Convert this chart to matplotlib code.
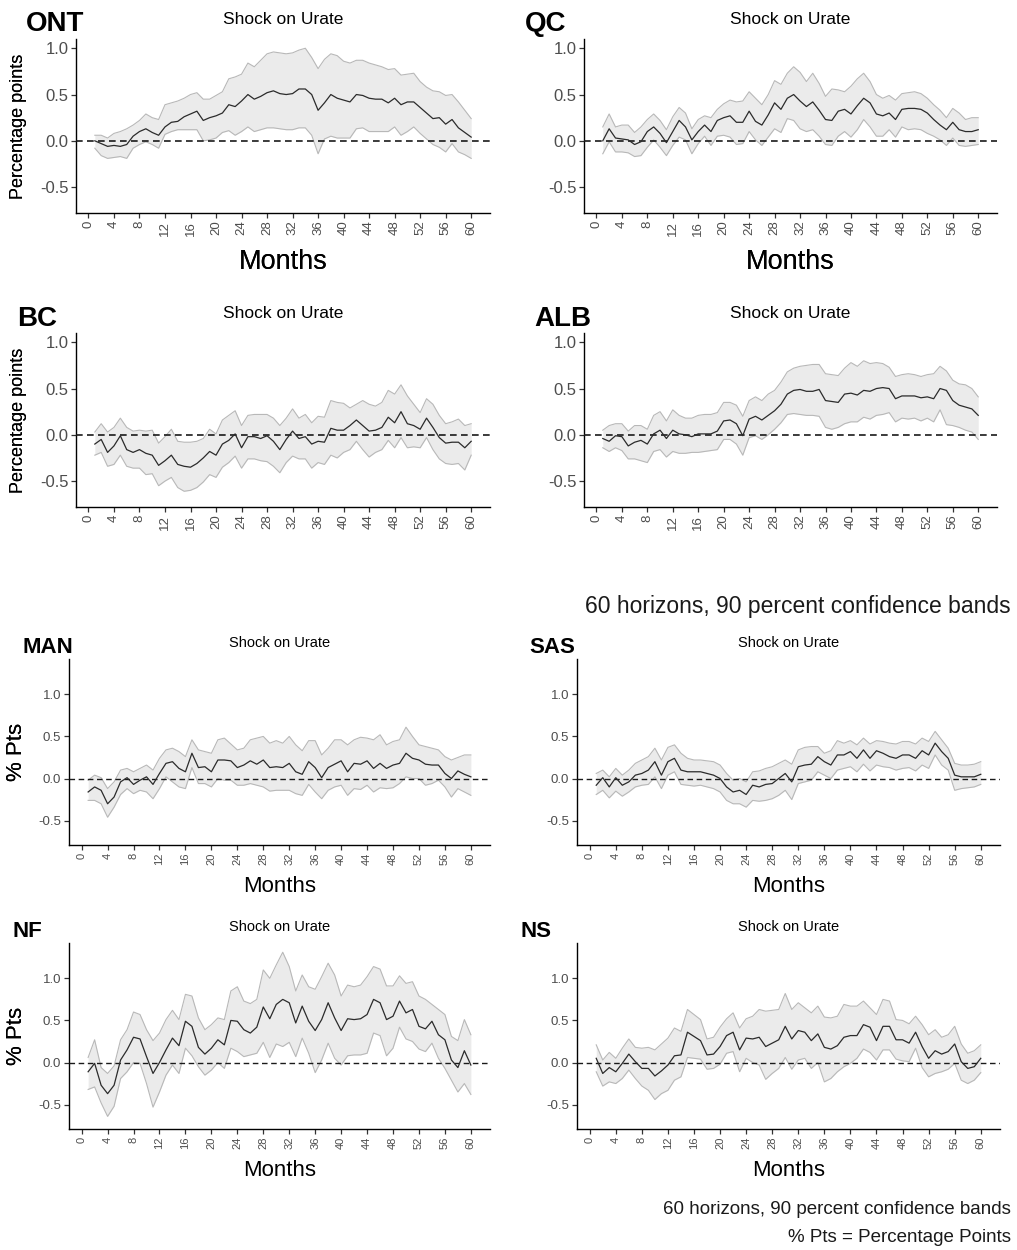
import matplotlib
matplotlib.use("Agg")
import matplotlib.pyplot as plt
import numpy as np

plt.rcParams["font.family"] = ["Liberation Sans", "DejaVu Sans"]

# horizons 1..60, ticks every 4 months
months = np.arange(1, 61)
x_ticks = np.arange(0, 61, 4)
y_ticks = [-0.5, 0.0, 0.5, 1.0]

# --- impulse responses (mid = point estimate, lo/hi = 90% band) ---
ont_mid = [0.00, -0.03, -0.06, -0.05, -0.06, -0.04, 0.05, 0.10, 0.13, 0.09,
           0.06, 0.15, 0.20, 0.21, 0.26, 0.29, 0.32, 0.22, 0.25, 0.27,
           0.30, 0.39, 0.37, 0.43, 0.50, 0.45, 0.48, 0.52, 0.54, 0.51,
           0.50, 0.51, 0.56, 0.56, 0.50, 0.33, 0.41, 0.50, 0.46, 0.44,
           0.42, 0.50, 0.49, 0.46, 0.45, 0.45, 0.41, 0.46, 0.39, 0.42,
           0.42, 0.36, 0.30, 0.24, 0.25, 0.18, 0.23, 0.14, 0.09, 0.04]
ont_hi = [0.06, 0.06, 0.03, 0.08, 0.10, 0.13, 0.17, 0.22, 0.29, 0.25,
          0.23, 0.39, 0.41, 0.43, 0.46, 0.50, 0.52, 0.45, 0.45, 0.49,
          0.53, 0.67, 0.69, 0.72, 0.84, 0.80, 0.87, 0.94, 0.96, 0.95,
          0.94, 0.95, 0.98, 1.00, 0.90, 0.78, 0.88, 0.94, 0.92, 0.86,
          0.84, 0.87, 0.87, 0.84, 0.82, 0.80, 0.77, 0.78, 0.71, 0.72,
          0.73, 0.64, 0.58, 0.54, 0.53, 0.49, 0.50, 0.42, 0.33, 0.24]
ont_lo = [-0.08, -0.16, -0.19, -0.18, -0.17, -0.19, -0.08, -0.04, -0.01, -0.04,
          -0.08, 0.07, 0.10, 0.12, 0.12, 0.12, 0.12, 0.00, 0.01, 0.03,
          0.09, 0.11, 0.06, 0.10, 0.15, 0.10, 0.12, 0.14, 0.14, 0.13,
          0.12, 0.12, 0.14, 0.14, 0.06, -0.14, 0.02, 0.05, 0.03, 0.03,
          0.03, 0.13, 0.14, 0.10, 0.10, 0.10, 0.10, 0.15, 0.06, 0.10,
          0.15, 0.08, 0.02, -0.04, -0.07, -0.12, -0.03, -0.12, -0.15, -0.19]

qc_mid = [0.00, 0.13, 0.03, 0.02, 0.01, -0.04, -0.01, 0.10, 0.15, 0.08,
          -0.02, 0.10, 0.22, 0.15, 0.01, 0.10, 0.17, 0.10, 0.22, 0.25,
          0.27, 0.20, 0.20, 0.32, 0.21, 0.17, 0.28, 0.41, 0.34, 0.46,
          0.50, 0.43, 0.37, 0.42, 0.33, 0.23, 0.22, 0.32, 0.34, 0.29,
          0.38, 0.46, 0.41, 0.29, 0.27, 0.30, 0.23, 0.34, 0.35, 0.35,
          0.34, 0.30, 0.23, 0.17, 0.12, 0.20, 0.12, 0.10, 0.10, 0.12]
qc_hi = [0.15, 0.29, 0.15, 0.17, 0.17, 0.09, 0.15, 0.23, 0.29, 0.22,
         0.12, 0.26, 0.36, 0.30, 0.13, 0.23, 0.27, 0.25, 0.34, 0.40,
         0.44, 0.42, 0.43, 0.53, 0.46, 0.39, 0.50, 0.65, 0.61, 0.73,
         0.80, 0.74, 0.64, 0.73, 0.62, 0.48, 0.56, 0.55, 0.53, 0.59,
         0.67, 0.73, 0.64, 0.50, 0.46, 0.49, 0.44, 0.51, 0.52, 0.53,
         0.51, 0.46, 0.39, 0.33, 0.25, 0.35, 0.30, 0.23, 0.25, 0.25]
qc_lo = [-0.14, -0.01, -0.12, -0.12, -0.13, -0.17, -0.16, -0.07, 0.01, -0.07,
         -0.16, -0.05, 0.04, 0.01, -0.14, -0.03, 0.05, -0.05, 0.05, 0.06,
         0.04, -0.04, -0.03, 0.10, 0.01, -0.05, 0.04, 0.13, 0.09, 0.24,
         0.22, 0.13, 0.10, 0.12, 0.05, -0.04, -0.05, 0.05, 0.10, 0.04,
         0.12, 0.23, 0.15, 0.05, 0.05, 0.12, 0.04, 0.15, 0.12, 0.13,
         0.12, 0.08, 0.05, 0.01, -0.05, 0.03, -0.05, -0.06, -0.05, -0.04]

bc_mid = [-0.10, -0.05, -0.19, -0.12, -0.01, -0.16, -0.19, -0.16, -0.20, -0.22,
          -0.33, -0.28, -0.22, -0.32, -0.34, -0.35, -0.31, -0.25, -0.18, -0.22,
          -0.10, -0.06, 0.01, -0.14, -0.02, -0.02, -0.04, -0.01, -0.07, -0.16,
          -0.05, 0.04, -0.04, -0.02, -0.10, -0.07, -0.08, 0.07, 0.05, 0.05,
          0.10, 0.16, 0.10, 0.04, 0.05, 0.08, 0.19, 0.13, 0.25, 0.12,
          0.10, 0.06, 0.18, 0.08, -0.03, -0.09, -0.08, -0.08, -0.14, -0.07]
bc_hi = [0.03, 0.12, 0.03, 0.08, 0.18, 0.08, 0.04, 0.05, 0.04, 0.05,
         -0.09, -0.02, 0.06, -0.07, -0.08, -0.08, -0.07, -0.04, 0.06, 0.01,
         0.16, 0.21, 0.26, 0.10, 0.21, 0.22, 0.22, 0.22, 0.18, 0.10,
         0.18, 0.28, 0.18, 0.22, 0.13, 0.20, 0.19, 0.37, 0.35, 0.34,
         0.29, 0.33, 0.37, 0.33, 0.31, 0.35, 0.48, 0.44, 0.54, 0.42,
         0.33, 0.24, 0.39, 0.33, 0.21, 0.12, 0.14, 0.17, 0.10, 0.12]
bc_lo = [-0.22, -0.19, -0.34, -0.32, -0.22, -0.34, -0.36, -0.36, -0.43, -0.42,
         -0.55, -0.50, -0.46, -0.57, -0.61, -0.60, -0.57, -0.51, -0.43, -0.46,
         -0.35, -0.30, -0.23, -0.36, -0.26, -0.26, -0.28, -0.29, -0.34, -0.41,
         -0.30, -0.23, -0.26, -0.26, -0.36, -0.30, -0.32, -0.22, -0.25, -0.19,
         -0.16, -0.07, -0.16, -0.24, -0.19, -0.16, -0.06, -0.14, -0.03, -0.14,
         -0.13, -0.14, -0.03, -0.16, -0.26, -0.31, -0.32, -0.31, -0.38, -0.22]

alb_mid = [-0.04, -0.07, -0.01, -0.02, -0.12, -0.08, -0.06, -0.10, 0.01, 0.05,
           -0.04, 0.05, 0.01, 0.00, -0.02, 0.01, 0.01, 0.01, 0.04, 0.15,
           0.16, 0.12, -0.01, 0.17, 0.20, 0.16, 0.21, 0.26, 0.33, 0.44,
           0.48, 0.49, 0.47, 0.47, 0.49, 0.37, 0.36, 0.35, 0.44, 0.45,
           0.43, 0.48, 0.47, 0.50, 0.51, 0.50, 0.39, 0.42, 0.42, 0.42,
           0.40, 0.41, 0.39, 0.50, 0.48, 0.37, 0.32, 0.30, 0.28, 0.21]
alb_hi = [0.05, 0.10, 0.12, 0.12, 0.04, 0.10, 0.10, 0.06, 0.21, 0.25,
          0.15, 0.27, 0.21, 0.18, 0.18, 0.21, 0.22, 0.22, 0.24, 0.35,
          0.35, 0.32, 0.20, 0.37, 0.41, 0.37, 0.44, 0.48, 0.57, 0.68,
          0.72, 0.74, 0.75, 0.76, 0.76, 0.66, 0.65, 0.64, 0.72, 0.78,
          0.74, 0.80, 0.77, 0.78, 0.77, 0.73, 0.63, 0.65, 0.66, 0.65,
          0.63, 0.65, 0.66, 0.74, 0.69, 0.59, 0.55, 0.54, 0.50, 0.41]
alb_lo = [-0.14, -0.18, -0.14, -0.17, -0.26, -0.26, -0.28, -0.30, -0.18, -0.16,
          -0.24, -0.18, -0.20, -0.20, -0.19, -0.19, -0.18, -0.17, -0.16, -0.05,
          -0.05, -0.10, -0.22, -0.03, -0.01, -0.05, 0.00, 0.06, 0.13, 0.22,
          0.23, 0.22, 0.21, 0.21, 0.20, 0.08, 0.06, 0.08, 0.12, 0.14,
          0.14, 0.19, 0.17, 0.21, 0.22, 0.24, 0.14, 0.18, 0.17, 0.18,
          0.15, 0.18, 0.14, 0.27, 0.11, 0.10, 0.08, 0.05, 0.03, -0.05]

man_mid = [-0.16, -0.10, -0.14, -0.30, -0.22, -0.04, 0.01, -0.07, -0.02, 0.02,
           -0.07, 0.06, 0.18, 0.20, 0.12, 0.08, 0.30, 0.13, 0.14, 0.08,
           0.22, 0.22, 0.21, 0.13, 0.16, 0.21, 0.17, 0.22, 0.13, 0.14,
           0.13, 0.18, 0.08, 0.05, 0.20, 0.13, 0.01, 0.13, 0.17, 0.21,
           0.08, 0.18, 0.17, 0.21, 0.12, 0.18, 0.12, 0.16, 0.18, 0.30,
           0.24, 0.22, 0.17, 0.16, 0.16, 0.06, 0.00, 0.09, 0.05, 0.02]
man_hi = [-0.02, 0.04, 0.01, -0.12, -0.04, 0.10, 0.12, 0.08, 0.12, 0.16,
          0.10, 0.24, 0.34, 0.36, 0.32, 0.26, 0.46, 0.34, 0.32, 0.30,
          0.46, 0.48, 0.41, 0.34, 0.36, 0.46, 0.48, 0.50, 0.42, 0.45,
          0.42, 0.50, 0.40, 0.33, 0.45, 0.45, 0.28, 0.36, 0.46, 0.46,
          0.40, 0.46, 0.49, 0.48, 0.46, 0.52, 0.40, 0.44, 0.46, 0.61,
          0.50, 0.40, 0.38, 0.36, 0.34, 0.26, 0.22, 0.25, 0.28, 0.28]
man_lo = [-0.26, -0.26, -0.30, -0.46, -0.34, -0.19, -0.12, -0.18, -0.14, -0.16,
          -0.24, -0.12, 0.02, -0.04, -0.10, -0.12, 0.13, -0.06, -0.06, -0.10,
          0.00, -0.02, -0.02, -0.08, -0.08, -0.06, -0.08, -0.10, -0.15, -0.14,
          -0.14, -0.14, -0.18, -0.20, -0.07, -0.16, -0.24, -0.14, -0.10, -0.08,
          -0.20, -0.12, -0.13, -0.08, -0.16, -0.11, -0.12, -0.11, -0.06, 0.02,
          0.00, 0.00, -0.08, -0.06, -0.02, -0.10, -0.22, -0.12, -0.16, -0.20]

sas_mid = [-0.08, 0.01, -0.10, 0.01, -0.08, -0.04, 0.04, 0.06, 0.10, 0.20,
           0.04, 0.20, 0.24, 0.10, 0.08, 0.08, 0.08, 0.06, 0.04, 0.00,
           -0.10, -0.16, -0.14, -0.19, -0.08, -0.10, -0.07, -0.06, 0.00, 0.06,
           -0.04, 0.14, 0.16, 0.17, 0.26, 0.20, 0.16, 0.28, 0.28, 0.32,
           0.24, 0.34, 0.24, 0.33, 0.30, 0.26, 0.24, 0.28, 0.28, 0.24,
           0.33, 0.28, 0.42, 0.32, 0.24, 0.04, 0.02, 0.02, 0.02, 0.05]
sas_hi = [0.06, 0.10, 0.02, 0.12, 0.04, 0.10, 0.18, 0.22, 0.26, 0.36,
          0.22, 0.37, 0.40, 0.30, 0.24, 0.22, 0.22, 0.21, 0.20, 0.16,
          0.06, -0.02, 0.00, -0.04, 0.08, 0.09, 0.12, 0.14, 0.18, 0.22,
          0.17, 0.34, 0.37, 0.38, 0.38, 0.30, 0.33, 0.45, 0.42, 0.45,
          0.40, 0.48, 0.41, 0.45, 0.44, 0.42, 0.41, 0.44, 0.44, 0.41,
          0.48, 0.44, 0.56, 0.46, 0.36, 0.18, 0.16, 0.16, 0.17, 0.20]
sas_lo = [-0.19, -0.14, -0.23, -0.15, -0.21, -0.16, -0.10, -0.08, -0.07, 0.02,
          -0.12, 0.04, 0.08, -0.07, -0.08, -0.09, -0.08, -0.10, -0.12, -0.16,
          -0.26, -0.30, -0.30, -0.34, -0.26, -0.27, -0.26, -0.24, -0.20, -0.14,
          -0.25, -0.06, -0.04, -0.02, 0.08, 0.04, 0.00, 0.10, 0.12, 0.14,
          0.08, 0.17, 0.09, 0.16, 0.14, 0.13, 0.10, 0.12, 0.13, 0.09,
          0.16, 0.12, 0.28, 0.16, 0.10, -0.14, -0.12, -0.11, -0.10, -0.07]

nf_mid = [-0.11, -0.01, -0.27, -0.37, -0.27, 0.03, 0.15, 0.30, 0.28, 0.07,
          -0.13, 0.00, 0.15, 0.29, 0.20, 0.49, 0.43, 0.18, 0.10, 0.17,
          0.27, 0.21, 0.50, 0.49, 0.39, 0.35, 0.42, 0.66, 0.52, 0.69,
          0.75, 0.71, 0.47, 0.67, 0.49, 0.38, 0.51, 0.71, 0.53, 0.38,
          0.52, 0.51, 0.52, 0.57, 0.75, 0.71, 0.51, 0.55, 0.73, 0.59,
          0.63, 0.43, 0.40, 0.49, 0.33, 0.27, 0.03, -0.06, 0.14, -0.03]
nf_hi = [0.06, 0.27, -0.06, -0.13, -0.04, 0.27, 0.39, 0.60, 0.57, 0.39,
         0.26, 0.35, 0.51, 0.62, 0.51, 0.81, 0.79, 0.53, 0.39, 0.45,
         0.53, 0.51, 0.85, 0.90, 0.73, 0.70, 0.75, 1.10, 1.00, 1.16,
         1.31, 1.14, 0.85, 1.04, 0.90, 0.87, 1.02, 1.18, 1.04, 0.79,
         0.92, 0.90, 0.92, 1.02, 1.14, 1.11, 0.91, 0.91, 1.03, 0.94,
         0.96, 0.79, 0.75, 0.69, 0.63, 0.57, 0.31, 0.26, 0.51, 0.33]
nf_lo = [-0.32, -0.29, -0.48, -0.64, -0.52, -0.19, -0.11, 0.00, -0.01, -0.25,
         -0.53, -0.35, -0.15, -0.03, -0.13, 0.17, 0.08, -0.05, -0.15, -0.09,
         0.00, -0.07, 0.17, 0.13, 0.07, 0.09, 0.11, 0.24, 0.06, 0.22,
         0.19, 0.24, 0.07, 0.29, 0.11, -0.12, 0.03, 0.23, 0.05, -0.03,
         0.08, 0.09, 0.09, 0.11, 0.35, 0.32, 0.08, 0.17, 0.42, 0.28,
         0.25, 0.16, 0.13, 0.23, 0.05, -0.07, -0.21, -0.35, -0.25, -0.38]

ns_mid = [0.05, -0.13, -0.06, -0.11, -0.01, 0.10, 0.01, -0.07, -0.07, -0.16,
          -0.10, -0.03, 0.08, 0.09, 0.36, 0.31, 0.26, 0.09, 0.10, 0.19,
          0.32, 0.36, 0.15, 0.29, 0.28, 0.30, 0.19, 0.23, 0.27, 0.43,
          0.28, 0.38, 0.36, 0.26, 0.34, 0.18, 0.16, 0.20, 0.30, 0.32,
          0.32, 0.45, 0.42, 0.26, 0.43, 0.43, 0.27, 0.27, 0.23, 0.36,
          0.19, 0.05, 0.14, 0.10, 0.13, 0.22, 0.01, -0.07, -0.05, 0.05]
ns_hi = [0.21, 0.03, 0.12, 0.05, 0.17, 0.28, 0.18, 0.17, 0.18, 0.15,
         0.22, 0.29, 0.41, 0.37, 0.63, 0.57, 0.51, 0.28, 0.30, 0.42,
         0.52, 0.59, 0.41, 0.52, 0.55, 0.63, 0.61, 0.62, 0.63, 0.82,
         0.63, 0.71, 0.65, 0.59, 0.67, 0.54, 0.53, 0.55, 0.69, 0.67,
         0.67, 0.73, 0.65, 0.57, 0.75, 0.73, 0.51, 0.50, 0.46, 0.55,
         0.45, 0.33, 0.39, 0.30, 0.33, 0.43, 0.22, 0.11, 0.14, 0.21]
ns_lo = [-0.11, -0.28, -0.23, -0.25, -0.19, -0.09, -0.19, -0.28, -0.33, -0.44,
         -0.37, -0.33, -0.21, -0.17, 0.06, 0.05, 0.04, -0.08, -0.07, -0.02,
         0.11, 0.13, -0.11, 0.05, 0.00, -0.03, -0.20, -0.13, -0.07, 0.06,
         -0.08, 0.03, 0.05, -0.07, 0.00, -0.23, -0.19, -0.11, -0.05, -0.01,
         0.05, 0.16, 0.12, 0.03, 0.15, 0.15, 0.04, 0.02, 0.01, 0.17,
         -0.06, -0.17, -0.13, -0.11, -0.08, -0.01, -0.21, -0.25, -0.21, -0.12]

W, H = 1017, 1250
fig = plt.figure(figsize=(W / 100, H / 100), dpi=100)
fig.patch.set_facecolor("white")


def px_axes(left, top, right, bottom):
    return fig.add_axes([left / W, 1 - bottom / H, (right - left) / W, (bottom - top) / H])


def draw_panel(box, name, name_xy, mid, lo, hi, big):
    ax = px_axes(*box)
    ax.fill_between(months, lo, hi, color="#ebebeb", lw=0, zorder=1)
    ax.plot(months, lo, color="#b8b8b8", lw=0.8, zorder=2)
    ax.plot(months, hi, color="#b8b8b8", lw=0.8, zorder=2)
    ax.axhline(0, color="#1a1a1a", lw=1.2 if big else 1.0, dashes=(4, 2.6), zorder=3)
    ax.plot(months, mid, color="#2b2b2b", lw=0.9, zorder=4)

    ax.set_xlim(-1.95, 62.95)
    ax.set_ylim((-0.78, 1.1) if big else (-0.79, 1.42))
    ax.set_xticks(x_ticks)
    ax.set_yticks(y_ticks)
    ax.set_yticklabels(["-0.5", "0.0", "0.5", "1.0"])
    for s in ["top", "right"]:
        ax.spines[s].set_visible(False)
    for s in ["left", "bottom"]:
        ax.spines[s].set_linewidth(1.0)
        ax.spines[s].set_color("black")
    ax.tick_params(axis="both", direction="out", length=3.5, width=0.9,
                   color="#333333", labelcolor="#4d4d4d")
    ax.tick_params(axis="x", labelrotation=90, labelsize=9.5 if big else 8, pad=2)
    ax.tick_params(axis="y", labelsize=12 if big else 9.5, pad=2)

    left, top, right, bottom = box
    if big:
        ax.set_xlabel("Months", fontsize=19.5)
        ax.xaxis.set_label_coords(0.5, (bottom - 262) / (bottom - top))
        ax.set_ylabel("Percentage points", fontsize=13)
        ax.yaxis.set_label_coords((19 - left) / (right - left), 0.5)
        title_size, sub_size, sub_off = 20, 12.5, 15
    else:
        ax.set_xlabel("Months", fontsize=16)
        ax.xaxis.set_label_coords(0.5, (bottom - (bottom + 41)) / (bottom - top))
        ax.set_ylabel("% Pts", fontsize=16)
        ax.yaxis.set_label_coords((17 - left) / (right - left), 0.5)
        title_size, sub_size, sub_off = 16, 10.5, 12
    ax.xaxis.label.set_va("center")
    ax.yaxis.label.set_va("center")

    fig.text(name_xy[0] / W, 1 - name_xy[1] / H, name, fontsize=title_size,
             fontweight="bold", ha="left", va="baseline")
    fig.text((left + right) / 2 / W, 1 - (top - sub_off) / H, "Shock on Urate",
             fontsize=sub_size, ha="center", va="baseline")
    return ax


# top group: Percentage points
draw_panel((76, 39, 490, 213), "ONT", (26, 31), ont_mid, ont_lo, ont_hi, True)
draw_panel((584, 39, 997, 213), "QC", (525, 31), qc_mid, qc_lo, qc_hi, True)
draw_panel((76, 333, 490, 507), "BC", (17, 326), bc_mid, bc_lo, bc_hi, True)
draw_panel((584, 333, 997, 507), "ALB", (534, 326), alb_mid, alb_lo, alb_hi, True)
fig.text(1011 / W, 1 - 607 / H, "60 horizons, 90 percent confidence bands",
         fontsize=16.5, ha="right", va="center", color="#1a1a1a")

# bottom group: % Pts
draw_panel((69, 659, 490, 845), "MAN", (22, 653), man_mid, man_lo, man_hi, False)
draw_panel((577, 659, 1000, 845), "SAS", (529, 653), sas_mid, sas_lo, sas_hi, False)
draw_panel((69, 943, 490, 1129), "NF", (12, 937), nf_mid, nf_lo, nf_hi, False)
draw_panel((577, 943, 1000, 1129), "NS", (520, 937), ns_mid, ns_lo, ns_hi, False)
fig.text(1011 / W, 1 - 1210 / H, "60 horizons, 90 percent confidence bands",
         fontsize=13.5, ha="right", va="center", color="#1a1a1a")
fig.text(1011 / W, 1 - 1238 / H, "% Pts = Percentage Points",
         fontsize=13.5, ha="right", va="center", color="#1a1a1a")

fig.savefig("out.png", dpi=100, facecolor="white")
